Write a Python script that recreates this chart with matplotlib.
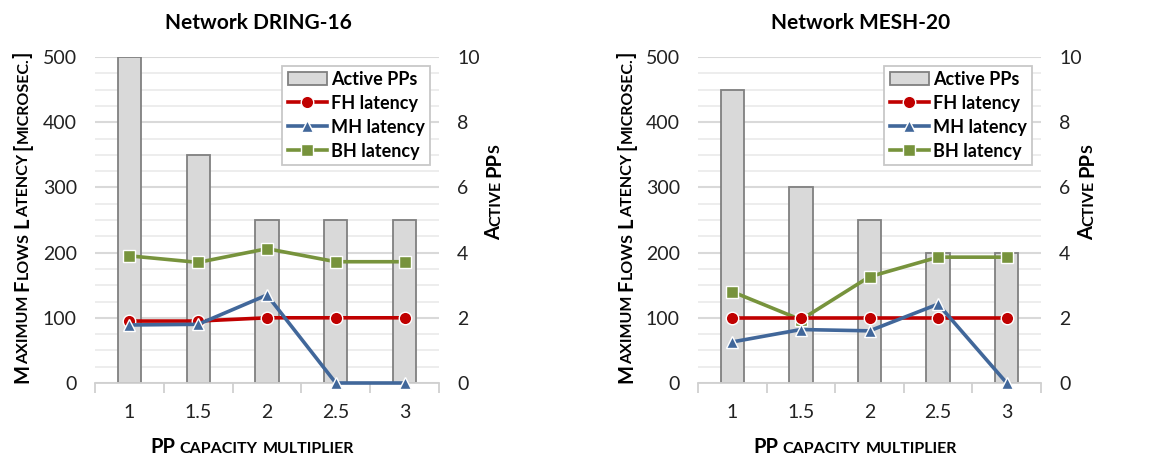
import matplotlib
matplotlib.use("Agg")
import matplotlib.pyplot as plt
from matplotlib.patches import Patch
from matplotlib.lines import Line2D
import numpy as np

plt.rcParams["font.family"] = ["Lato", "DejaVu Sans"]

# ── Data ─────────────────────────────────────────────────────────────────────
multipliers = ["1", "1.5", "2", "2.5", "3"]

dring_active = [10, 7, 5, 5, 5]
dring_fh = [95, 95, 100, 100, 100]
dring_mh = [89, 90, 135, 0, 0]
dring_bh = [195, 185, 206, 186, 186]

mesh_active = [9, 6, 5, 4, 4]
mesh_fh = [100, 100, 100, 100, 100]
mesh_mh = [63, 82, 80, 121, 0]
mesh_bh = [140, 97, 163, 193, 193]

titles = ["Network DRING-16", "Network MESH-20"]

# ── Style ────────────────────────────────────────────────────────────────────
BAR_FILL = "#d9d9d9"
BAR_EDGE = "#808080"
FH_COLOR = "#c00000"
MH_COLOR = "#41679a"
BH_COLOR = "#77933c"
TXT = "#222222"

W, H = 1161, 459
fig = plt.figure(figsize=(W / 100, H / 100), dpi=100)


def px_axes(x0, y0, x1, y1):
    # rectangle given in pixel coords (top-left origin)
    return fig.add_axes([x0 / W, 1 - y1 / H, (x1 - x0) / W, (y1 - y0) / H])


def small_caps(x, y, pieces, rotation=0, big=14.5, small=11.5):
    """Draw small-caps text centred at pixel (x, y), top-left origin.
    pieces: (text, "L"|"S") or (pixels, "gap")"""
    r = fig.canvas.get_renderer()
    widths = []
    for s, kind in pieces:
        if kind == "gap":
            widths.append(s)
            continue
        t = fig.text(0, 0, s, size=big if kind == "L" else small, weight="bold")
        widths.append(t.get_window_extent(r).width)
        t.remove()
    total = sum(widths)
    off = -total / 2
    for (s, kind), w in zip(pieces, widths):
        if kind != "gap":
            size = big if kind == "L" else small
            if rotation == 0:
                px, py = x + off, y
            else:
                px, py = x, y - off
            fig.text(px / W, 1 - py / H, s, size=size, weight="bold", color="black",
                     rotation=rotation, rotation_mode="anchor",
                     ha="left", va="baseline")
        off += w


YLABEL = [("M", "L"), ("AXIMUM", "S"), (4.5, "gap"), ("F", "L"), ("LOWS", "S"),
          (4.5, "gap"), ("L", "L"), ("ATENCY", "S"), (4.5, "gap"), ("[", "L"),
          ("MICROSEC.", "S"), ("]", "L")]
Y2LABEL = [("A", "L"), ("CTIVE", "S"), (4.5, "gap"), ("PP", "L"), (-1, "gap"), ("S", "S")]
XLABEL = [("PP", "L"), (4.5, "gap"), ("CAPACITY", "S"), (4.5, "gap"), ("MULTIPLIER", "S")]


def panel(box, title, active, fh, mh, bh, title_x, ylab_x, y2lab_x, xlab_x):
    ax_bar = px_axes(*box)
    x = np.arange(len(multipliers))

    # bars on the PP axis (drawn underneath)
    ax_bar.bar(x, active, width=0.34, color=BAR_FILL, edgecolor=BAR_EDGE,
               linewidth=1.3, zorder=2)
    ax_bar.set_ylim(0, 10)
    ax_bar.set_xlim(-0.5, len(multipliers) - 0.5)
    ax_bar.set_yticks(np.arange(0, 11, 2))
    ax_bar.set_yticks(np.arange(0, 10.01, 0.5), minor=True)
    ax_bar.grid(axis="y", which="major", color="#d9d9d9", linewidth=1.5, zorder=0)
    ax_bar.grid(axis="y", which="minor", color="#ececec", linewidth=1.3, zorder=0)
    ax_bar.set_axisbelow(True)

    ax_bar.set_xticks(x)
    ax_bar.set_xticklabels(multipliers)
    ax_bar.set_xticks(np.arange(-0.5, len(multipliers), 1), minor=True)
    ax_bar.tick_params(axis="x", which="major", length=0, labelsize=14,
                       labelcolor=TXT, pad=15)
    ax_bar.tick_params(axis="x", which="minor", length=7, color="#d0d0d0", width=1.3)
    for s in ["top", "left", "right"]:
        ax_bar.spines[s].set_visible(False)
    ax_bar.spines["bottom"].set_color("#d0d0d0")
    ax_bar.spines["bottom"].set_linewidth(1.3)

    # latency lines on a twin axis placed on the left
    ax = ax_bar.twinx()
    ax_bar.yaxis.tick_right()
    ax_bar.tick_params(axis="y", which="both", length=0, labelsize=14,
                       labelcolor=TXT, pad=13, left=False, labelleft=False,
                       right=True, labelright=True)
    ax.yaxis.tick_left()
    ax.set_ylim(0, 500)
    ax.set_yticks(np.arange(0, 501, 100))
    ax.tick_params(axis="y", length=0, labelsize=14, labelcolor=TXT, pad=13,
                   left=True, labelleft=True, right=False, labelright=False)
    for s in ax.spines.values():
        s.set_visible(False)

    kw = dict(linewidth=2.6, markersize=9, markeredgecolor="white",
              markeredgewidth=1.0, clip_on=False, zorder=3)
    ax.plot(x, bh, color=BH_COLOR, marker="s", **kw)
    ax.plot(x, fh, color=FH_COLOR, marker="o", **kw)
    ax.plot(x, mh, color=MH_COLOR, marker="^", **kw)

    lkw = dict(linewidth=2.6, markersize=9, markeredgecolor="white", markeredgewidth=1.0)
    handles = [Patch(facecolor=BAR_FILL, edgecolor=BAR_EDGE, linewidth=1.3),
               Line2D([], [], color=FH_COLOR, marker="o", **lkw),
               Line2D([], [], color=MH_COLOR, marker="^", **lkw),
               Line2D([], [], color=BH_COLOR, marker="s", **lkw)]
    leg = ax.legend(handles, ["Active PPs", "FH latency", "MH latency", "BH latency"],
                    loc="upper right", bbox_to_anchor=(0.985, 0.985), fancybox=False,
                    framealpha=1, edgecolor="#c8c8c8", prop={"weight": "bold", "size": 13},
                    handlelength=2.2, handletextpad=0.2, labelspacing=0.38,
                    borderpad=0.3, borderaxespad=0.2)
    leg.get_frame().set_linewidth(1.3)

    fig.text(title_x / W, 1 - 23 / H, title, size=15, weight="bold",
             ha="center", va="center")
    small_caps(ylab_x, 217, YLABEL, rotation=90)
    small_caps(y2lab_x, 192, Y2LABEL, rotation=90)
    small_caps(xlab_x, 453, XLABEL, rotation=0)


panel((95, 57, 439, 383), titles[0], dring_active, dring_fh, dring_mh, dring_bh,
      258, 28, 500, 252)
panel((698, 57, 1041, 383), titles[1], mesh_active, mesh_fh, mesh_mh, mesh_bh,
      861, 632, 1093, 855)

fig.savefig("out.png", dpi=100)
